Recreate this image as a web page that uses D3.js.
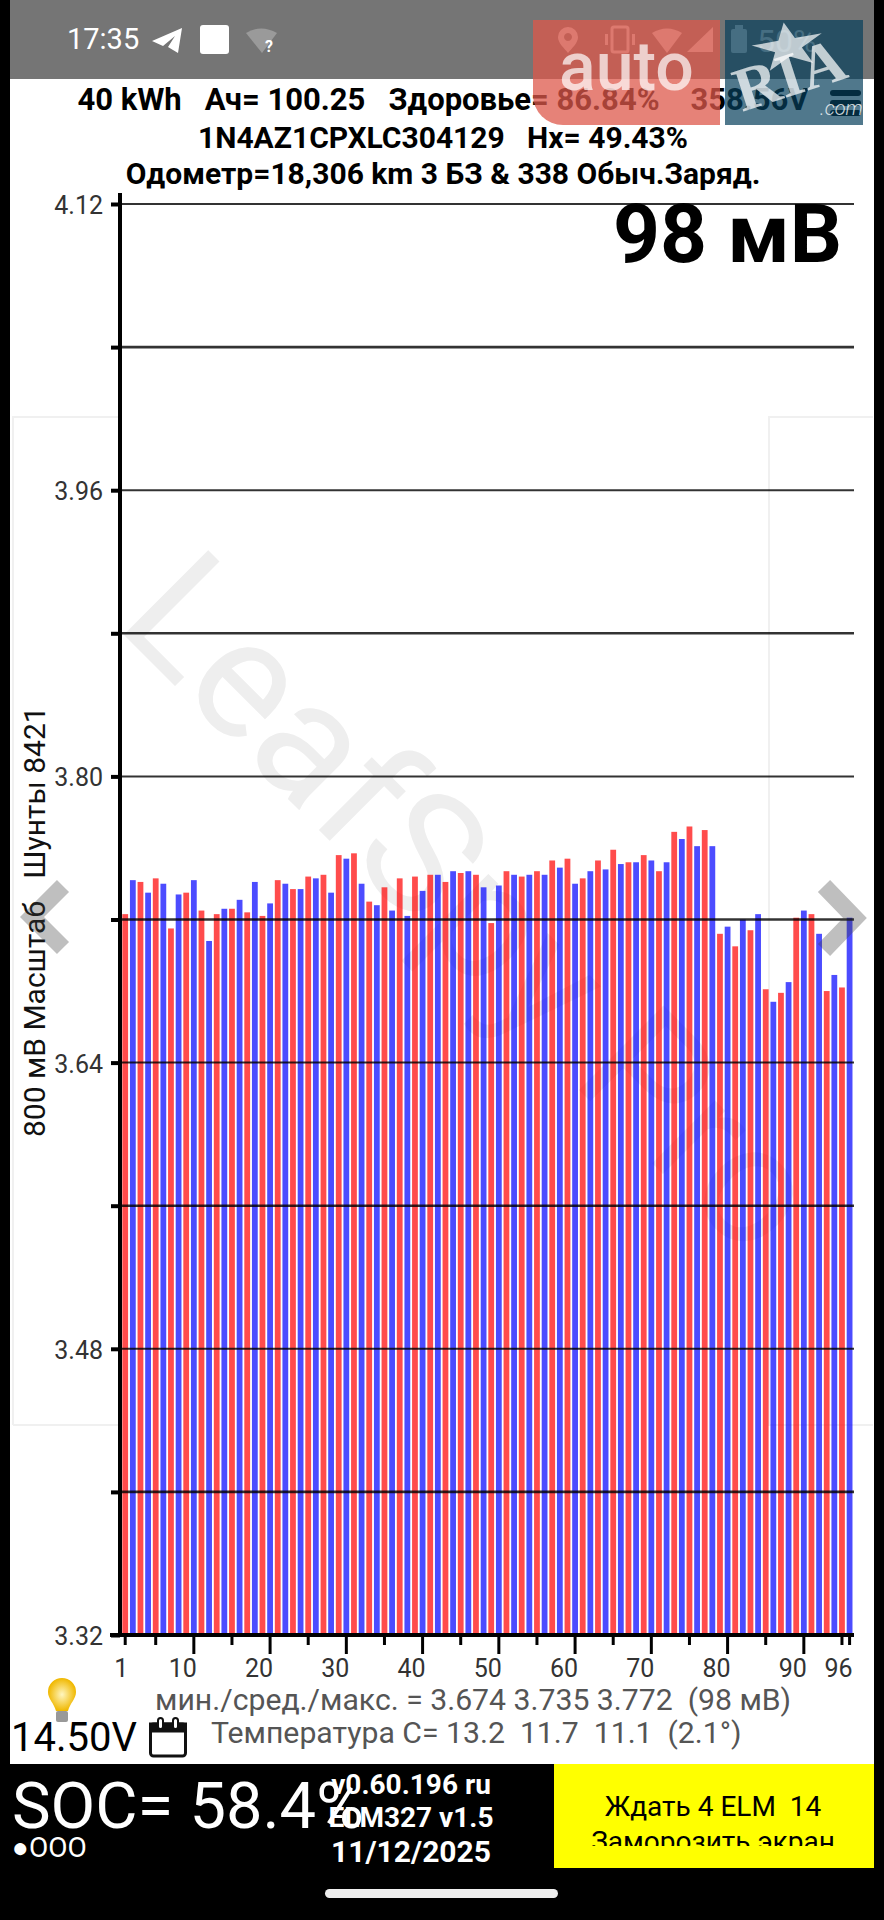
<!DOCTYPE html>
<html>
<head>
<meta charset="utf-8">
<script src="https://cdn.jsdelivr.net/npm/d3@7"></script>
<style>
body{margin:0;background:#000;}
svg{display:block;}
text{font-family:Roboto,sans-serif;white-space:pre;}
</style>
</head>
<body>
<script>
// cell voltages, cell 1 to 96
var cellVolts = [
 3.723,3.742,3.741,3.735,3.743,3.740,3.715,3.734,3.735,3.742,
 3.725,3.708,3.723,3.726,3.726,3.731,3.724,3.741,3.722,3.729,
 3.742,3.740,3.737,3.737,3.744,3.743,3.745,3.735,3.756,3.754,
 3.757,3.740,3.730,3.728,3.738,3.725,3.743,3.722,3.744,3.736,
 3.745,3.745,3.741,3.747,3.746,3.747,3.745,3.738,3.718,3.739,
 3.747,3.745,3.744,3.745,3.747,3.745,3.753,3.749,3.754,3.740,
 3.743,3.747,3.753,3.748,3.759,3.751,3.752,3.752,3.756,3.753,
 3.747,3.752,3.769,3.765,3.772,3.761,3.770,3.761,3.712,3.716,
 3.705,3.720,3.714,3.723,3.681,3.674,3.679,3.685,3.721,3.725,
 3.723,3.712,3.680,3.689,3.682,3.721];
var yTicks = [3.32,3.40,3.48,3.56,3.64,3.72,3.80,3.88,3.96,4.04,4.12];
var yLabels = [3.32,3.48,3.64,3.80,3.96,4.12];
var xTicks = [1,5,10,15,20,25,30,35,40,45,50,55,60,65,70,75,80,85,90,95,96];
var xLabels = [1,10,20,30,40,50,60,70,80,90,96];
var headerLines = [
 "40 kWh   Ач= 100.25   Здоровье= 86.84%    358.56V",
 "1N4AZ1CPXLC304129   Hx= 49.43%",
 "Одометр=18,306 km 3 БЗ & 338 Обыч.Заряд."];
var headerY = [110,148,184];
var versionLines = ["v0.60.196 ru","ELM327 v1.5","11/12/2025"];
var versionY = [1794,1827,1862];

var svg = d3.select("body").append("svg").attr("width",884).attr("height",1920);

// page
svg.append("rect").attr("width",884).attr("height",1920).attr("fill","#000");
svg.append("rect").attr("x",10).attr("y",79).attr("width",864).attr("height",1685).attr("fill","#fff");
svg.append("rect").attr("x",10).attr("width",864).attr("height",79).attr("fill","#757575");

// status bar
svg.append("text").attr("x",67).attr("y",49).attr("font-size",29).attr("fill","#fff").text("17:35");
svg.append("path").attr("d","M182,28L152,41L163,46L175,36L168,47L178,53Z").attr("fill","#fff");
svg.append("rect").attr("x",200).attr("y",25).attr("width",29).attr("height",29).attr("rx",3).attr("fill","#fff");
svg.append("path").attr("d","M246,33Q261,24 277,33L262,53Z").attr("fill","#9a9a9a");
svg.append("text").attr("x",265).attr("y",52).attr("font-size",16).attr("font-weight","bold").attr("fill","#fff").text("?");

// status icons that sit under the site logo
var ic = svg.append("g").attr("fill","#dcdcdc");
ic.append("path").attr("d","M568,27a10,10 0 0 1 10,10c0,6 -6,11 -10,16c-4,-5 -10,-10 -10,-16a10,10 0 0 1 10,-10z M568,33a4,4 0 1 0 .01,0z").attr("fill-rule","evenodd");
ic.append("rect").attr("x",612).attr("y",27).attr("width",16).attr("height",25).attr("rx",2).attr("fill","none").attr("stroke","#dcdcdc").attr("stroke-width",3);
ic.append("rect").attr("x",605).attr("y",34).attr("width",3).attr("height",11);
ic.append("rect").attr("x",632).attr("y",34).attr("width",3).attr("height",11);
ic.append("path").attr("d","M652,33Q667,24 682,33L667,53Z");
ic.append("path").attr("d","M713,27V52H687Z");
ic.append("rect").attr("x",731).attr("y",29).attr("width",16).attr("height",24).attr("rx",2);
ic.append("rect").attr("x",735).attr("y",25).attr("width",8).attr("height",4);
ic.append("text").attr("x",757).attr("y",52).attr("font-size",32).attr("fill","#dcdcdc").text("50%");

// faint app watermark behind the bars
var wm = svg.append("g").attr("stroke","#f0f0f0").attr("stroke-width",2).attr("fill","none");
wm.append("path").attr("d","M13,1425V417H119");
wm.append("path").attr("d","M13,1425H119");
wm.append("path").attr("d","M873,417H769V1425H873");
svg.append("text").attr("transform","translate(114,625) rotate(45)")
  .attr("font-size",168).attr("fill","#eeeeee").text("LeafSpy Pro");

// scales
var cells = cellVolts.map(function(d,i){ return i+1; });
var x = d3.scaleBand().domain(cells).range([121.4,853.4]).paddingInner(0.24).paddingOuter(0.12);
var y = d3.scaleLinear().domain([3.32,4.12]).range([1635,204]);

// bars
svg.append("g").selectAll("rect")
.data(cellVolts)
.enter().append("rect")
	.attr("x",function(d,i){ return x(i+1); })
	.attr("y",function(d){ return y(d); })
	.attr("width",x.bandwidth())
	.attr("height",function(d){ return y(3.32)-y(d); })
	.attr("fill",function(d,i){ return i%2==0 ? "#ff0000" : "#0000ff"; })
	.attr("fill-opacity",0.7);

// grid lines
svg.append("g").selectAll("line")
.data(yTicks)
.enter().append("line")
	.attr("x1",120).attr("x2",854)
	.attr("y1",function(d){ return y(d); })
	.attr("y2",function(d){ return y(d); })
	.attr("stroke","#000")
	.attr("stroke-opacity",0.8)
	.attr("stroke-width",function(d){ return yLabels.indexOf(d)>=0 ? 2 : 2.6; });

// y axis
var yAxis = d3.axisLeft(y).tickValues(yTicks).tickSize(9).tickPadding(8)
  .tickFormat(function(d){ return yLabels.indexOf(d)>=0 ? d.toFixed(2) : ""; });
var yG = svg.append("g").attr("transform","translate(120,0)").call(yAxis);
yG.select(".domain").remove();
yG.selectAll(".tick line").attr("stroke","#000").attr("stroke-width",4);
yG.selectAll(".tick text").attr("font-size",25).attr("fill","#333").attr("dy","0.38em").style("font-family","Roboto");
svg.append("line").attr("x1",120).attr("x2",120).attr("y1",193).attr("y2",1637).attr("stroke","#000").attr("stroke-width",4);

// x axis
var xAxis = d3.axisBottom(x).tickValues(xTicks).tickSizeOuter(0)
  .tickFormat(function(d){ return xLabels.indexOf(d)>=0 ? d : ""; });
var xG = svg.append("g").attr("transform","translate(0,1635)").call(xAxis);
xG.select(".domain").remove();
xG.selectAll(".tick line")
	.attr("stroke","#000").attr("stroke-width",3)
	.attr("y2",function(d){ return d%10==0 ? 19 : 10; });
xG.selectAll(".tick text")
	.attr("font-size",25).attr("fill","#333").attr("text-anchor","end")
	.attr("x",3).attr("y",42).attr("dy",0).style("font-family","Roboto");
svg.append("line").attr("x1",110).attr("x2",854).attr("y1",y(3.32)).attr("y2",y(3.32)).attr("stroke","#000").attr("stroke-width",4);

// header
svg.append("g").selectAll("text")
.data(headerLines)
.enter().append("text")
	.attr("x",443)
	.attr("y",function(d,i){ return headerY[i]; })
	.attr("text-anchor","middle").attr("font-weight","bold").attr("fill","#000")
	.attr("font-size",function(d,i){ return i==0 ? 31 : 30; })
	.text(function(d){ return d; });
svg.append("text").attr("x",842).attr("y",262).attr("text-anchor","end").attr("font-size",82).attr("font-weight","bold").text("98 мВ");

// menu button
svg.append("g").selectAll("rect").data([90,100,110]).enter().append("rect")
	.attr("x",830).attr("y",function(d){ return d; }).attr("width",31).attr("height",6).attr("rx",3).attr("fill","#000");

// y title
svg.append("text").attr("transform","translate(45,1137) rotate(-90)").attr("font-size",30).attr("fill","#111")
	.text("800 мВ Масштаб   Шунты 8421");

// lower text
svg.append("text").attr("x",155).attr("y",1710).attr("font-size",30.2).attr("fill","#555").text("мин./сред./макс. = 3.674 3.735 3.772  (98 мВ)");
svg.append("text").attr("x",211).attr("y",1743).attr("font-size",30.2).attr("fill","#555").text("Температура С= 13.2  11.7  11.1  (2.1°)");
svg.append("text").attr("x",11).attr("y",1751).attr("font-size",40).attr("fill","#000").text("14.50V");

// bulb
var grad = svg.append("defs").append("radialGradient").attr("id","bulb");
grad.append("stop").attr("offset","0%").attr("stop-color","#fff6c0");
grad.append("stop").attr("offset","100%").attr("stop-color","#f0b800");
svg.append("path").attr("d","M62,1678a14,14 0 0 1 14,14c0,7 -6,11 -8,19h-12c-2,-8 -8,-12 -8,-19a14,14 0 0 1 14,-14z").attr("fill","url(#bulb)");
svg.append("rect").attr("x",56).attr("y",1711).attr("width",12).attr("height",11).attr("rx",2).attr("fill","#999");

// calendar
var cal = svg.append("g").attr("fill","none").attr("stroke","#111").attr("stroke-width",3);
cal.append("rect").attr("x",150.5).attr("y",1724).attr("width",35).attr("height",32).attr("rx",3);
cal.append("rect").attr("x",150.5).attr("y",1724).attr("width",35).attr("height",7).attr("fill","#111");
cal.append("rect").attr("x",158).attr("y",1718).attr("width",5).attr("height",11).attr("rx",2.5).attr("fill","#fff").attr("stroke-width",2);
cal.append("rect").attr("x",173).attr("y",1718).attr("width",5).attr("height",11).attr("rx",2.5).attr("fill","#fff").attr("stroke-width",2);

// bottom bar
svg.append("text").attr("x",12).attr("y",1828).attr("font-size",65).attr("fill","#fff").text("SOC= 58.4%");
svg.append("text").attr("x",12).attr("y",1857).attr("font-size",28).attr("fill","#fff").text("●OOO");
svg.append("g").selectAll("text")
.data(versionLines)
.enter().append("text")
	.attr("x",411)
	.attr("y",function(d,i){ return versionY[i]; })
	.attr("text-anchor","middle").attr("font-weight","bold").attr("fill","#fff")
	.attr("font-size",function(d,i){ return i==2 ? 30 : 28; })
	.text(function(d){ return d; });

svg.append("rect").attr("x",554).attr("y",1764).attr("width",320).attr("height",104).attr("fill","#ffff00");
svg.append("clipPath").attr("id","btn").append("rect").attr("x",554).attr("y",1764).attr("width",320).attr("height",82);
svg.append("text").attr("x",713).attr("y",1816).attr("text-anchor","middle").attr("font-size",28).attr("fill","#000").text("Ждать 4 ELM  14");
svg.append("text").attr("x",713).attr("y",1851).attr("text-anchor","middle").attr("font-size",28).attr("fill","#000").attr("clip-path","url(#btn)").text("Заморозить экран");

svg.append("rect").attr("x",325).attr("y",1889).attr("width",233).attr("height",9).attr("rx",4.5).attr("fill","#eee");

// paging arrows
var arrow = d3.line();
svg.append("g").attr("fill","none").attr("stroke","#3c3c3c").attr("stroke-opacity",0.33).attr("stroke-width",17)
	.selectAll("path").data([[[63,886],[32,917],[63,948]],[[824,886],[855,918],[824,950]]])
	.enter().append("path").attr("d",arrow);

// site logo stamped over the screenshot
svg.append("path").attr("d","M533,20H720V125H563A30,30 0 0 1 533,95Z").attr("fill","rgb(221,88,75)").attr("fill-opacity",0.75);
svg.append("rect").attr("x",725).attr("y",20).attr("width",138).attr("height",105).attr("fill","rgb(6,63,91)").attr("fill-opacity",0.7);
svg.append("text").attr("x",559).attr("y",90).attr("font-size",68).attr("font-weight",500).attr("fill","#fff").attr("fill-opacity",0.7).text("auto");
svg.append("path").attr("d",d3.symbol().type(d3.symbolStar).size(700)()).attr("transform","translate(788,47) rotate(-10) scale(1.5,1)").attr("fill","#fff").attr("fill-opacity",0.7);
svg.append("text").attr("transform","translate(742,112) rotate(-18)").style("font-family","'Liberation Serif'").attr("font-size",62).attr("font-weight","bold").attr("fill","#fff").attr("fill-opacity",0.72).text("RIA");
svg.append("text").attr("x",820).attr("y",115).attr("font-size",20).attr("font-style","italic").attr("font-weight",300).attr("fill","#fff").attr("fill-opacity",0.8).text(".com");
</script>
</body>
</html>
